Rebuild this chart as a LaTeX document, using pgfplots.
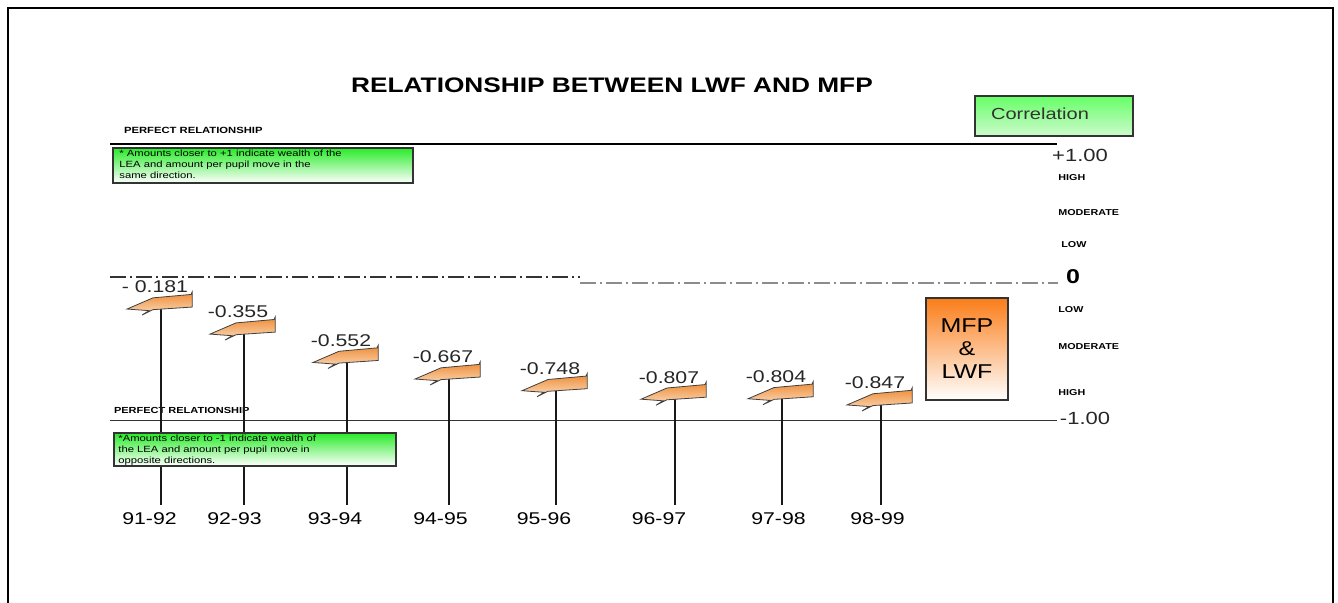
\documentclass[border=0pt]{standalone}
\usepackage{fontspec}
\setmainfont{Liberation Sans}[FakeStretch=1.25]
\usepackage{pgfplots}
\usepackage{pgfplotstable}
\pgfplotsset{compat=1.18}

% correlation of LWF and MFP by school year
\pgfplotstableread[col sep=comma]{
x,v,lbl
161,-0.181,- 0.181
244,-0.355,-0.355
347,-0.552,-0.552
449,-0.667,-0.667
556,-0.748,-0.748
675,-0.807,-0.807
782,-0.804,-0.804
881,-0.847,-0.847
}\corrdata

\definecolor{flagtop}{RGB}{238,138,50}
\definecolor{flagbot}{RGB}{251,220,190}
\definecolor{boxgreen}{RGB}{40,235,40}
\definecolor{paleg}{RGB}{205,250,205}
\definecolor{boxorange}{RGB}{250,125,25}

% pennant shaped marker
\pgfdeclareplotmark{flag}{%
  \shadedraw[draw=black!75, line width=0.4pt, top color=flagtop, bottom color=flagbot]
    (-17pt,-3pt) -- (-4pt,2.6pt) -- (15pt,4.3pt) -- (15.6pt,5.6pt) -- (15.6pt,-2pt)
    -- (-4pt,-3.3pt) -- (-9.5pt,-6pt) -- (-6pt,-3.8pt) -- cycle;}

\begin{document}
\begin{tikzpicture}
\begin{axis}[
    scale only axis,
    width=669pt, height=301.5pt,
    xmin=0, xmax=1338,
    ymin=-2.2639, ymax=1.9236,
    axis lines*=left,
    axis line style={draw=none},
    tick style={draw=none},
    ytick=\empty,
    xtick={149.5,234.5,335,440.5,544,659,778.5,877.5},
    xticklabels={91-92,92-93,93-94,94-95,95-96,96-97,97-98,98-99},
    xticklabel style={font=\fontsize{8.5}{10}\selectfont, anchor=base, yshift=39pt},
    clip=false,
]
% frame
\draw[line width=1pt] (axis cs:8,-2.3) -- (axis cs:8,1.868) -- (axis cs:1333,1.868) -- (axis cs:1333,-2.3);

\node[font=\fontsize{10.5}{12}\selectfont\bfseries] at (axis cs:612,1.333) {RELATIONSHIP BETWEEN LWF AND MFP};

% correlation key
\shadedraw[draw=black!80, line width=0.6pt, top color=green!60!white, bottom color=paleg]
  (axis cs:975,1.257) rectangle (axis cs:1133,0.979);
\node[font=\fontsize{8}{9}\selectfont, text=black!80] at (axis cs:1040,1.132) {Correlation};

% reference lines
\draw[line width=0.7pt] (axis cs:110,0.924) -- (axis cs:1057,0.924);
\draw[black!80, line width=0.6pt, dash pattern=on 8pt off 2pt on 1pt off 2pt] (axis cs:110,0) -- (axis cs:580,0);
\draw[black!45, line width=0.6pt, dash pattern=on 8pt off 2pt on 1pt off 2pt] (axis cs:580,-0.042) -- (axis cs:1058,-0.042);
\draw[black!80, line width=0.5pt] (axis cs:110,-1) -- (axis cs:1057,-1);

\node[font=\fontsize{4.5}{5}\selectfont\bfseries, anchor=west] at (axis cs:117,1.021) {PERFECT RELATIONSHIP};
\node[font=\fontsize{4.4}{5}\selectfont\bfseries, anchor=west] at (axis cs:107,-0.924) {PERFECT RELATIONSHIP};

% scale on the right
\node[font=\fontsize{8.8}{10}\selectfont, text=black!85] at (axis cs:1080,0.847) {+1.00};
\node[font=\fontsize{8.8}{10}\selectfont, text=black!85] at (axis cs:1085,-0.979) {-1.00};
\node[font=\fontsize{10}{11}\selectfont\bfseries] at (axis cs:1073,0) {0};
\begin{scope}[every node/.style={font=\fontsize{4.3}{5}\selectfont\bfseries, anchor=west, inner sep=0pt}]
\node at (axis cs:1058,0.6875) {HIGH};
\node at (axis cs:1058,0.451) {MODERATE};
\node at (axis cs:1061,0.222) {LOW};
\node at (axis cs:1058,-0.229) {LOW};
\node at (axis cs:1058,-0.486) {MODERATE};
\node at (axis cs:1058,-0.799) {HIGH};
\end{scope}

% sticks
\addplot[black!90, line width=0.7pt, unbounded coords=jump] coordinates {
  (161,-0.181) (161,-1.583) (161,nan)
  (244,-0.355) (244,-1.583) (244,nan)
  (347,-0.552) (347,-1.583) (347,nan)
  (449,-0.667) (449,-1.583) (449,nan)
  (556,-0.748) (556,-1.583) (556,nan)
  (675,-0.807) (675,-1.583) (675,nan)
  (782,-0.804) (782,-1.583) (782,nan)
  (881,-0.847) (881,-1.583)
};

% note boxes
\shadedraw[draw=black!80, line width=0.7pt, top color=boxgreen, middle color=green!55!white, bottom color=white]
  (axis cs:113,0.896) rectangle (axis cs:413,0.653);
\node[anchor=north west, align=left, inner sep=0pt, font=\fontsize{4.5}{5.3}\selectfont]
  at (axis cs:119,0.882) {* Amounts closer to +1 indicate wealth of the\\LEA and amount per pupil move in the\\same direction.};
\shadedraw[draw=black!80, line width=0.7pt, top color=boxgreen, middle color=green!55!white, bottom color=white]
  (axis cs:114,-1.083) rectangle (axis cs:396,-1.3125);
\node[anchor=north west, align=left, inner sep=0pt, font=\fontsize{4.5}{5.6}\selectfont]
  at (axis cs:118,-1.095) {*Amounts closer to -1 indicate wealth of\\the LEA and amount per pupil move in\\opposite directions.};

% MFP & LWF box
\shadedraw[draw=black!80, line width=0.6pt, top color=boxorange, bottom color=white]
  (axis cs:926,-0.146) rectangle (axis cs:1008,-0.854);
\node[align=center, font=\fontsize{10}{11.5}\selectfont] at (axis cs:967,-0.5) {MFP\\\&\\LWF};

% flags with values
\addplot[only marks, mark=flag, point meta=explicit symbolic,
  nodes near coords,
  nodes near coords style={font=\fontsize{8.5}{10}\selectfont, text=black!85, anchor=center, xshift=-3pt, yshift=8pt}]
  table[x=x, y=v, meta=lbl] {\corrdata};
\end{axis}
\pgfresetboundingbox
\path (current axis.south west) rectangle (current axis.north east);
\end{tikzpicture}
\end{document}
